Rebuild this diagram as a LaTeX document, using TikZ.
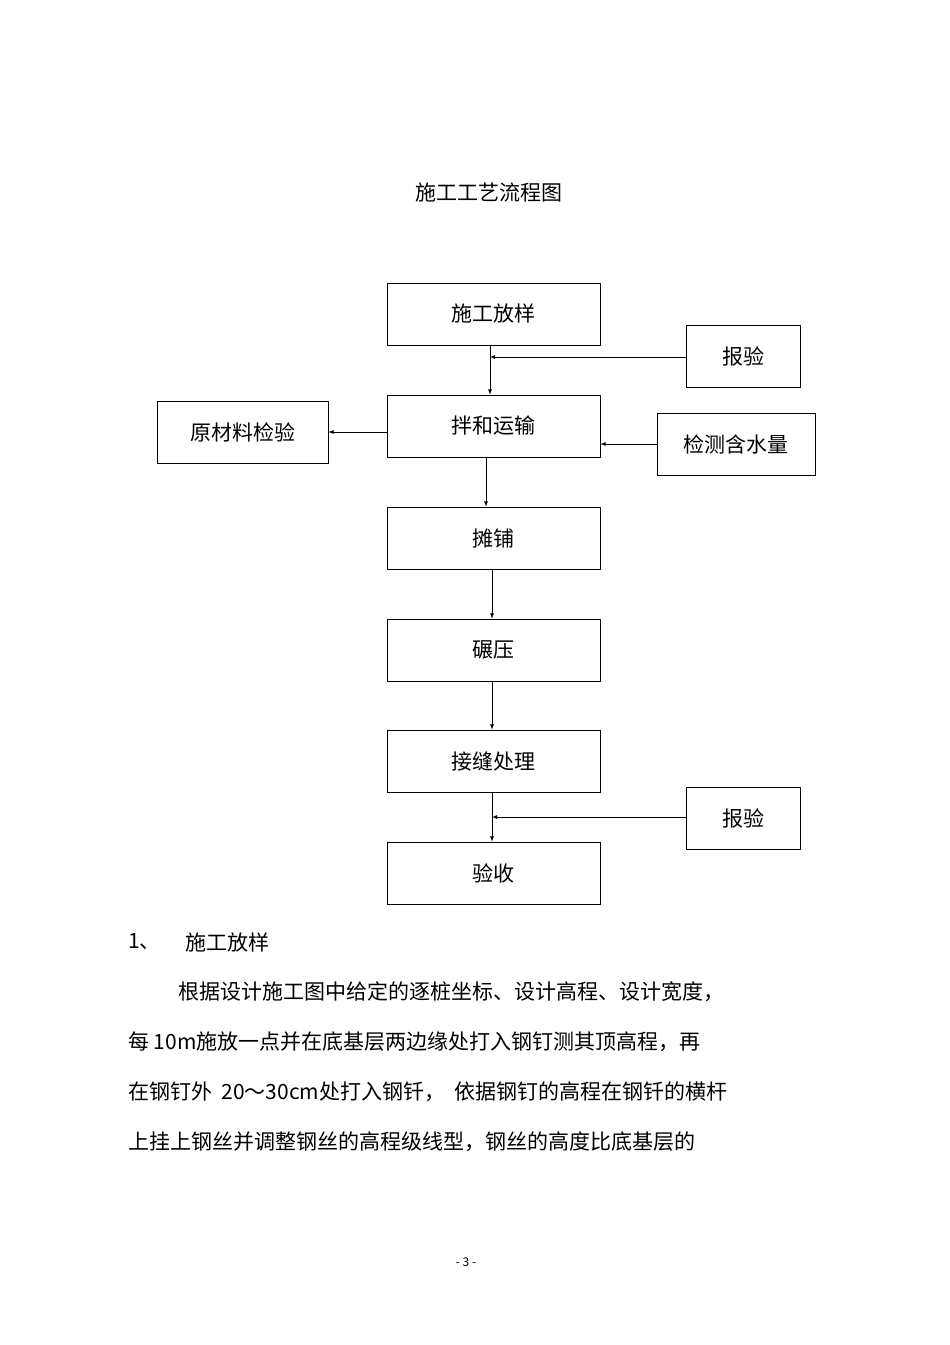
\documentclass[tikz,border=0pt]{standalone}
\usepackage{fontspec}
\setmainfont{Noto Sans CJK SC}
\begin{document}
\begin{tikzpicture}[x=1pt,y=-1pt,
  bx/.style={draw,thick,minimum width=213pt,minimum height=62pt,inner sep=0pt,font=\fontsize{21}{24}\selectfont},
  arr/.style={-latex,thick},
  txt/.style={anchor=west,inner sep=0pt,font=\fontsize{21}{24}\selectfont}]
\useasboundingbox (0,0) rectangle (950,1345);
\node[txt,anchor=center] (title) at (489,193) {施工工艺流程图};
\node[bx] (a) at (493.5,314) {施工放样};
\node[bx,minimum width=114pt] (r1) at (743,356) {报验};
\node[bx] (b) at (493.5,426) {拌和运输};
\node[bx,minimum width=171pt] (m) at (242.5,432) {原材料检验};
\node[bx,minimum width=158pt] (w) at (736,444) {检测含水量};
\node[bx] (c) at (493.5,538) {摊铺};
\node[bx] (d) at (493.5,650) {碾压};
\node[bx] (e) at (493.5,761) {接缝处理};
\node[bx,minimum width=114pt] (r2) at (743,818) {报验};
\node[bx] (f) at (493.5,873) {验收};
\coordinate (j1) at (490,357);
\coordinate (j2) at (492,817);
\draw[arr] (a.south -| j1) -- (b.north -| j1);
\draw[arr] (r1.west |- j1) -- (j1);
\draw[arr] (b.west |- m) -- (m.east);
\draw[arr] (w.west) -- (b.east |- w);
\draw[arr] (b.south -| 486,0) -- (c.north -| 486,0);
\draw[arr] (c.south -| j2) -- (d.north -| j2);
\draw[arr] (d.south -| j2) -- (e.north -| j2);
\draw[arr] (e.south -| j2) -- (f.north -| j2);
\draw[arr] (r2.west |- j2) -- (j2);
\node[txt] (t1) at (128,942) {1、};
\node[txt] (t1b) at (185,942) {施工放样};
\node[txt] (t2) at (178,992) {根据设计施工图中给定的逐桩坐标、设计高程、设计宽度，};
\node[txt] (t3) at (128,1042) {每 10m施放一点并在底基层两边缘处打入钢钉测其顶高程，再};
\node[txt] (t4) at (128,1092) {在钢钉外\ \ 20～30cm处打入钢钎，\ \ 依据钢钉的高程在钢钎的横杆};
\node[txt] (t5) at (128,1142) {上挂上钢丝并调整钢丝的高程级线型，钢丝的高度比底基层的};
\node[font=\fontsize{12}{14}\selectfont] (pg) at (466,1262) {- 3 -};
\end{tikzpicture}
\end{document}
